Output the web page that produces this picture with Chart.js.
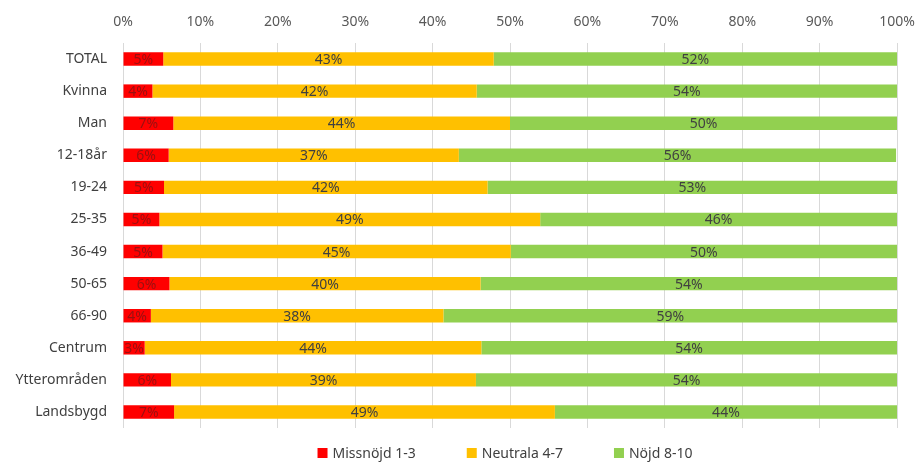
<!DOCTYPE html>
<html>
<head>
<meta charset="utf-8">
<script src="https://cdn.jsdelivr.net/npm/chart.js@4"></script>
<style>
  html, body { margin: 0; padding: 0; background: #fff; }
  #wrap { width: 918px; height: 464px; }
</style>
</head>
<body>
<div id="wrap"><canvas id="chart"></canvas></div>
<script>
const categories = ['TOTAL', 'Kvinna', 'Man', '12-18år', '19-24', '25-35', '36-49', '50-65', '66-90', 'Centrum', 'Ytterområden', 'Landsbygd'];
const missnojd = [5.2, 3.8, 6.5, 5.9, 5.3, 4.7, 5.1, 6.0, 3.6, 2.8, 6.2, 6.6];
const neutrala = [42.7, 41.9, 43.5, 37.49, 41.8, 49.2, 45.0, 40.2, 37.8, 43.5, 39.4, 49.2];
const nojd = [52.1, 54.3, 50.0, 56.49, 52.9, 46.1, 49.9, 53.8, 58.6, 53.7, 54.4, 44.2];
const xTicks = [0, 10, 20, 30, 40, 50, 60, 70, 80, 90, 100];

const FONT = '"Noto Sans", sans-serif';

// simple centred value labels inside each segment
const segmentLabels = {
    id: 'segmentLabels',
    afterDatasetsDraw(chart) {
        const ctx = chart.ctx;
        ctx.save();
        ctx.font = '14px ' + FONT;
        ctx.textAlign = 'center';
        ctx.textBaseline = 'middle';
        chart.data.datasets.forEach((ds, i) => {
            const meta = chart.getDatasetMeta(i);
            meta.data.forEach((bar, j) => {
                const x = (bar.x + bar.base) / 2;
                ctx.fillStyle = ds.labelColor;
                ctx.fillText(Math.round(ds.data[j]) + '%', x, bar.y + 1);
            });
        });
        ctx.restore();
    }
};

// legend drawn under the plot, wider item spacing than the built-in one allows
const wideLegend = {
    id: 'wideLegend',
    afterDraw(chart) {
        const ctx = chart.ctx;
        const box = 10, gapText = 5, gapItem = 51;
        ctx.save();
        ctx.font = '14px ' + FONT;
        ctx.textBaseline = 'middle';
        const items = chart.data.datasets.map(ds => ({
            text: ds.label,
            color: ds.backgroundColor,
            w: box + gapText + ctx.measureText(ds.label).width
        }));
        const total = items.reduce((s, it) => s + it.w, 0) + gapItem * (items.length - 1);
        const area = chart.chartArea;
        let x = (area.left + area.right) / 2 - 5 - total / 2;
        const y = 453;
        items.forEach(it => {
            ctx.fillStyle = it.color;
            ctx.fillRect(x, y - box / 2, box, box);
            ctx.fillStyle = '#404040';
            ctx.fillText(it.text, x + box + gapText, y + 1);
            x += it.w + gapItem;
        });
        ctx.restore();
    }
};

new Chart(document.getElementById('chart'), {
    type: 'bar',
    data: {
        labels: categories,
        datasets: [
            { label: 'Missnöjd 1-3', data: missnojd, backgroundColor: '#ff0000', labelColor: '#9a1010' },
            { label: 'Neutrala 4-7', data: neutrala, backgroundColor: '#ffc000', labelColor: '#404040' },
            { label: 'Nöjd 8-10', data: nojd, backgroundColor: '#92d050', labelColor: '#404040' }
        ]
    },
    options: {
        indexAxis: 'y',
        responsive: true,
        maintainAspectRatio: false,
        animation: false,
        layout: { padding: { left: 0, right: 0, top: 0, bottom: 36 } },
        datasets: { bar: { categoryPercentage: 1, barPercentage: 0.42 } },
        scales: {
            x: {
                position: 'top',
                stacked: true,
                min: 0,
                max: 100,
                afterBuildTicks: axis => { axis.ticks = xTicks.map(v => ({ value: v })); },
                afterFit: axis => {
                    axis.height = 43;
                    axis.paddingRight = 21;
                    axis.paddingLeft = 0;
                },
                border: { display: false },
                grid: { color: '#d9d9d9', drawTicks: false },
                ticks: {
                    padding: 13,
                    color: '#595959',
                    font: { family: FONT, size: 14 },
                    callback: v => v + '%'
                }
            },
            y: {
                stacked: true,
                afterFit: axis => { axis.width = 123; },
                border: { display: false },
                grid: { display: false },
                ticks: {
                    padding: 8,
                    color: '#404040',
                    font: { family: FONT, size: 14 }
                }
            }
        },
        plugins: {
            legend: { display: false },
            tooltip: { enabled: false }
        }
    },
    plugins: [segmentLabels, wideLegend]
});
</script>
</body>
</html>
